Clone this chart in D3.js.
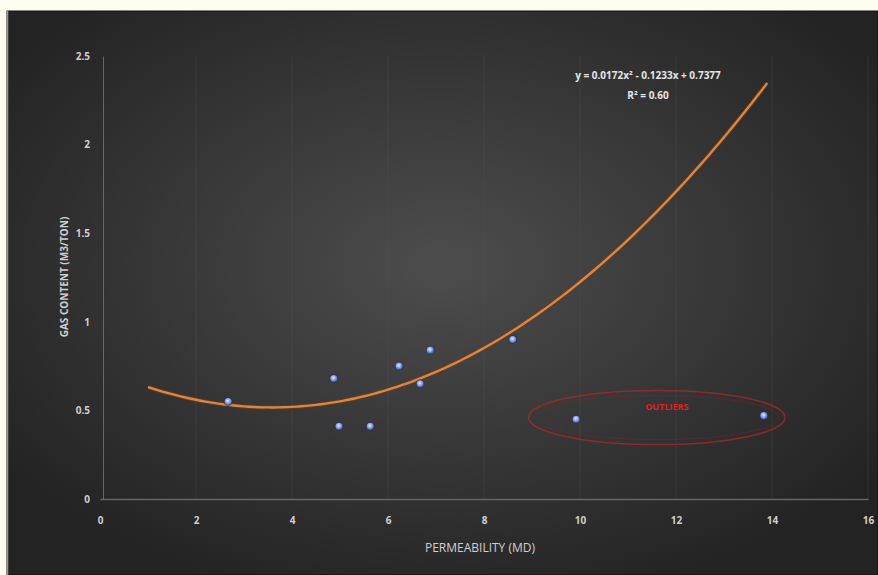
<!DOCTYPE html>
<html><head><meta charset="utf-8">
<script src="https://cdn.jsdelivr.net/npm/d3@7"></script>
<style>
html,body{margin:0;padding:0;background:#fffdf0;}
svg{display:block;}
</style></head>
<body>
<script>
// Data
const permeability = [2.67, 4.87, 4.98, 5.63, 6.23, 6.67, 6.88, 8.60, 9.92, 13.83];
const gasContent   = [0.55, 0.68, 0.41, 0.41, 0.75, 0.65, 0.84, 0.90, 0.45, 0.47];
const xTicks = [0, 2, 4, 6, 8, 10, 12, 14, 16];
const yTicks = [0, 0.5, 1, 1.5, 2, 2.5];
const yTickLabels = ["0", "0.5", "1", "1.5", "2", "2.5"];
const trendCoef = [0.0172, -0.1233, 0.7377]; // a x^2 + b x + c
const trendRange = [1, 13.9];
const trendSamples = d3.range(trendRange[0], trendRange[1] + 0.001, 0.1);
const equationText = ["y = 0.0172x² - 0.1233x + 0.7377", "R² = 0.60"];
const outlierCenter = [11.6, 0.46];
const outlierRadius = [2.67, 0.153];
const outlierLabel = "OUTLIERS";

const W = 878, H = 575;
const svg = d3.select("body").append("svg").attr("width", W).attr("height", H);
const defs = svg.append("defs");
const bg = defs.append("radialGradient").attr("id","bg")
  .attr("cx","50%").attr("cy","45%").attr("r","62%");
bg.append("stop").attr("offset","0%").attr("stop-color","#4d4d4d");
bg.append("stop").attr("offset","100%").attr("stop-color","#232323");
const dot = defs.append("radialGradient").attr("id","dot")
  .attr("cx","45%").attr("cy","40%").attr("r","60%");
dot.append("stop").attr("offset","0%").attr("stop-color","#e6ecff");
dot.append("stop").attr("offset","55%").attr("stop-color","#8c9ee6");
dot.append("stop").attr("offset","100%").attr("stop-color","#3e56b0");
const glow = defs.append("filter").attr("id","glow").attr("x","-50%").attr("y","-50%").attr("width","200%").attr("height","200%");
glow.append("feGaussianBlur").attr("stdDeviation",0.6);
const soft = defs.append("filter").attr("id","soft").attr("x","-10%").attr("y","-50%").attr("width","120%").attr("height","200%");
soft.append("feGaussianBlur").attr("stdDeviation",0.7);

svg.append("rect").attr("x",7).attr("y",11).attr("width",W-7).attr("height",H-11)
  .attr("fill","url(#bg)").attr("stroke","#111").attr("stroke-width",1);
svg.append("line").attr("x1",7.5).attr("x2",7.5).attr("y1",11).attr("y2",H)
  .attr("stroke","#9a9a90").attr("stroke-width",1.5);

const x = d3.scaleLinear().domain([0,16]).range([100,868]);
const y = d3.scaleLinear().domain([0,2.5]).range([499,56]);

// vertical gridlines
svg.append("g").selectAll("line").data(xTicks.slice(1)).join("line")
  .attr("x1",d=>x(d)).attr("x2",d=>x(d)).attr("y1",y(2.5)).attr("y2",y(0))
  .attr("stroke","#5a5a5a").attr("stroke-opacity",0.28).attr("stroke-width",1);

// axes
const xAxis = svg.append("g").attr("transform",`translate(0,${y(0)})`)
  .call(d3.axisBottom(x).tickValues(xTicks).tickSize(0).tickPadding(18));
xAxis.select(".domain").attr("stroke","#666").attr("stroke-width",1.5);
xAxis.selectAll("text").attr("fill","#cfcfcf").attr("font-family","Open Sans, sans-serif").attr("font-size",10).attr("font-weight","bold");

const yAxis = svg.append("g").attr("transform",`translate(${x(0)+3},0)`)
  .call(d3.axisLeft(y).tickValues(yTicks).tickFormat((d,i)=>yTickLabels[i]).tickSize(0).tickPadding(13));
yAxis.select(".domain").attr("stroke","#666").attr("stroke-width",1);
yAxis.selectAll("text").attr("fill","#cfcfcf").attr("font-family","Open Sans, sans-serif").attr("font-size",10).attr("font-weight","bold");

// axis titles
svg.append("text").attr("x",480).attr("y",552).attr("text-anchor","middle")
  .attr("fill","#d0d0d0").attr("font-family","Open Sans, sans-serif").attr("font-size",12)
  .text("PERMEABILITY (MD)");
svg.append("text").attr("transform",`translate(68,${277}) rotate(-90)`).attr("text-anchor","middle")
  .attr("fill","#d0d0d0").attr("font-family","Open Sans, sans-serif").attr("font-size",10).attr("font-weight","bold")
  .text("GAS CONTENT (M3/TON)");

// trendline
const line = d3.line().x(d=>x(d)).y(d=>y(trendCoef[0]*d*d + trendCoef[1]*d + trendCoef[2])).curve(d3.curveMonotoneX);
svg.append("path").datum(trendSamples).attr("d",line)
  .attr("fill","none").attr("stroke","#7a3c10").attr("stroke-width",4.5).attr("stroke-opacity",0.5);
svg.append("path").datum(trendSamples).attr("d",line)
  .attr("fill","none").attr("stroke","#dc8643").attr("stroke-width",2.4);

// points
svg.append("g").selectAll("circle").data(permeability).join("circle")
  .attr("cx",(d)=>x(d)).attr("cy",(d,i)=>y(gasContent[i])).attr("r",4.6)
  .attr("fill","#2a3050").attr("opacity",0.6);
svg.append("g").selectAll("circle").data(permeability).join("circle")
  .attr("cx",(d)=>x(d)).attr("cy",(d,i)=>y(gasContent[i])).attr("r",3.6)
  .attr("fill","url(#dot)").attr("filter","url(#glow)");

// equation
svg.append("g").selectAll("text").data(equationText).join("text")
  .attr("x",648).attr("y",(d,i)=>79+i*20).attr("text-anchor","middle")
  .attr("fill","#e6e6e6").attr("font-family","Open Sans, sans-serif").attr("font-size",10).attr("font-weight","bold")
  .text(d=>d);

// outlier ellipse
const ex = x(outlierCenter[0]), ey = y(outlierCenter[1]);
const erx = x(outlierCenter[0]+outlierRadius[0]) - ex, ery = ey - y(outlierCenter[1]+outlierRadius[1]);
svg.append("ellipse").attr("cx",ex).attr("cy",ey).attr("rx",erx).attr("ry",ery)
  .attr("fill","none").attr("stroke","#a82828").attr("stroke-width",1.5).attr("stroke-opacity",0.75)
  .attr("filter","url(#soft)");
svg.append("ellipse").attr("cx",ex).attr("cy",ey).attr("rx",erx-6).attr("ry",ery-5)
  .attr("fill","none").attr("stroke","#8a2424").attr("stroke-width",1).attr("stroke-opacity",0.4);
svg.append("text").attr("x",x(outlierCenter[0])+10).attr("y",ey-7).attr("text-anchor","middle")
  .attr("fill","#e02020").attr("font-family","Open Sans, sans-serif").attr("font-size",9).attr("font-weight","bold")
  .text(outlierLabel);
</script>
</body></html>
